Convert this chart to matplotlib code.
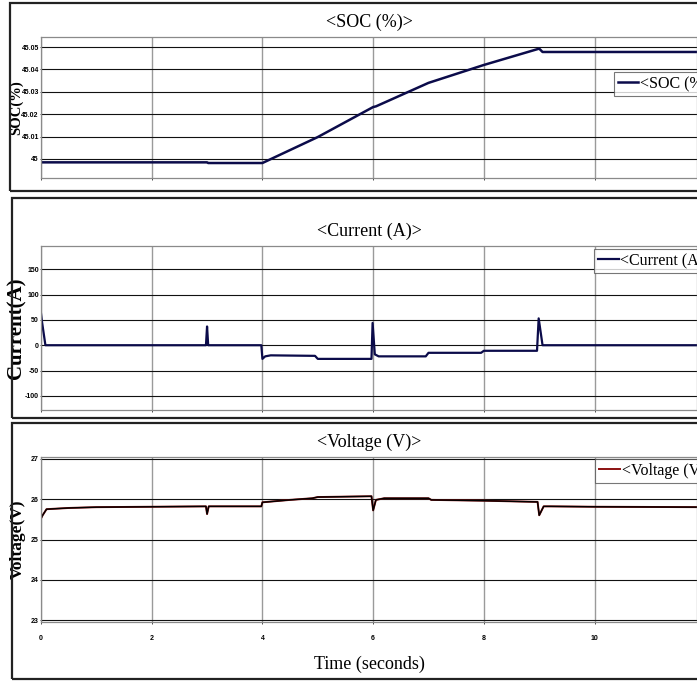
import matplotlib
matplotlib.use("Agg")
import matplotlib.pyplot as plt
from matplotlib.patches import Rectangle

# battery test run: SOC, pack current and terminal voltage vs time
soc_t = [0, 3.0, 3.02, 4.0, 5.0, 6.0, 6.05, 7.0, 8.0, 9.0, 9.06, 12.0]
soc_pct = [44.9985, 44.9985, 44.9982, 44.9982, 45.0098, 45.0232, 45.0235,
           45.034, 45.042, 45.0493, 45.0478, 45.0478]

cur_t = [0, 0.02, 0.08, 2.98, 3.0, 3.02, 3.98, 4.0, 4.05, 4.15, 4.95, 5.0,
         5.97, 5.99, 6.03, 6.1, 6.95, 7.0, 7.95, 8.0, 8.96, 8.99, 9.06, 9.1, 12.0]
cur_a = [63, 45, 0, 0, 37, 0, 0, -27, -22, -20, -21, -27,
         -27, 44, -18, -22, -22, -15, -15, -11, -11, 53, 0, 0, 0]

volt_t = [0, 0.03, 0.1, 0.5, 1.0, 2.98, 3.0, 3.03, 3.98, 4.0, 4.5, 4.9, 5.0,
          5.97, 6.0, 6.05, 6.2, 7.0, 7.05, 8.0, 8.97, 9.0, 9.08, 9.2, 10.0, 12.0]
volt_v = [25.52, 25.6, 25.75, 25.78, 25.8, 25.82, 25.63, 25.82, 25.82, 25.92,
          25.98, 26.02, 26.05, 26.07, 25.72, 25.98, 26.02, 26.02, 25.98, 25.96,
          25.93, 25.6, 25.82, 25.82, 25.81, 25.8]

soc_ticks = [45, 45.01, 45.02, 45.03, 45.04, 45.05]
cur_ticks = [-100, -50, 0, 50, 100, 150]
volt_ticks = [23, 24, 25, 26, 27]
time_ticks = [0, 2, 4, 6, 8, 10]

NAVY = "#0b0b4a"
SERIF = "Liberation Serif"

fig = plt.figure(figsize=(6.97, 6.81), dpi=100)

# framed boxes around each scope panel (figure coords)
for x0, y0, h in [(0.0143, 0.7195, 0.2765), (0.017, 0.3862, 0.3231), (0.017, 0.0029, 0.3759)]:
    fig.add_artist(Rectangle((x0, y0), 1.1, h, transform=fig.transFigure,
                             fill=False, edgecolor="#222222", linewidth=1.6))

ax1 = fig.add_axes([0.0588, 0.7386, 0.9412, 0.2071])
ax2 = fig.add_axes([0.0588, 0.3979, 0.9412, 0.2409])
ax3 = fig.add_axes([0.0588, 0.0866, 0.9412, 0.2423])


def style(ax, yticks, ylim, ylabel, ysize, ylab_x, title, show_x):
    ax.set_xlim(0, 11.85)
    ax.set_ylim(*ylim)
    ax.set_xticks(time_ticks)
    ax.set_yticks(yticks)
    ax.set_yticklabels([f"{v:g}" for v in yticks])
    ax.tick_params(axis="y", labelsize=5, length=1.0, width=0.5, pad=0.5)
    ax.tick_params(axis="x", labelsize=5, length=1.5, width=0.5, pad=7.5)
    if not show_x:
        ax.tick_params(axis="x", labelbottom=False)
    for lab in ax.get_xticklabels() + ax.get_yticklabels():
        lab.set_fontfamily("Liberation Sans")
        lab.set_fontweight("bold")
    ax.grid(axis="x", color="#9a9a9a", linewidth=1.0)
    ax.grid(axis="y", color="#111111", linewidth=0.8)
    ax.set_axisbelow(True)
    for s in ax.spines.values():
        s.set_color("#8a8a8a")
        s.set_linewidth(0.9)
    ax.set_ylabel(ylabel, family=SERIF, fontweight="bold", fontsize=ysize,
                  va="center")
    ax.yaxis.set_label_coords(ylab_x, 0.5)
    ax.set_title(title, family=SERIF, fontsize=13, pad=7)


def add_legend(ax, x, y):
    leg = ax.legend(loc="upper left", bbox_to_anchor=(x, y), frameon=True,
                    fancybox=False, prop={"family": SERIF, "size": 11.5},
                    handlelength=1.3, handletextpad=0.1, borderpad=0.25,
                    borderaxespad=0)
    leg.get_frame().set_edgecolor("#555555")
    leg.get_frame().set_linewidth(0.8)


ax1.plot(soc_t, soc_pct, color=NAVY, linewidth=1.8, label="<SOC (%)>")
style(ax1, soc_ticks, (44.9915, 45.0545), "SOC(%)", 10.5, -0.037, "<SOC (%)>", False)
add_legend(ax1, 0.873, 0.752)

ax2.plot(cur_t, cur_a, color=NAVY, linewidth=1.6, label="<Current (A)>")
style(ax2, cur_ticks, (-128, 196), "Current(A)", 15, -0.037, "<Current (A)>", False)
add_legend(ax2, 0.843, 0.982)

ax3.plot(volt_t, volt_v, color="#8b1010", linewidth=1.4, label="<Voltage (V)>")
ax3.plot(volt_t, volt_v, color="black", linewidth=1.0)
style(ax3, volt_ticks, (22.96, 27.04), "Voltage(V)", 12.5, -0.035, "<Voltage (V)>", True)
ax3.set_xlabel("Time (seconds)", family=SERIF, fontsize=13, labelpad=10)
add_legend(ax3, 0.845, 0.988)

fig.savefig("out.png", dpi=100)
